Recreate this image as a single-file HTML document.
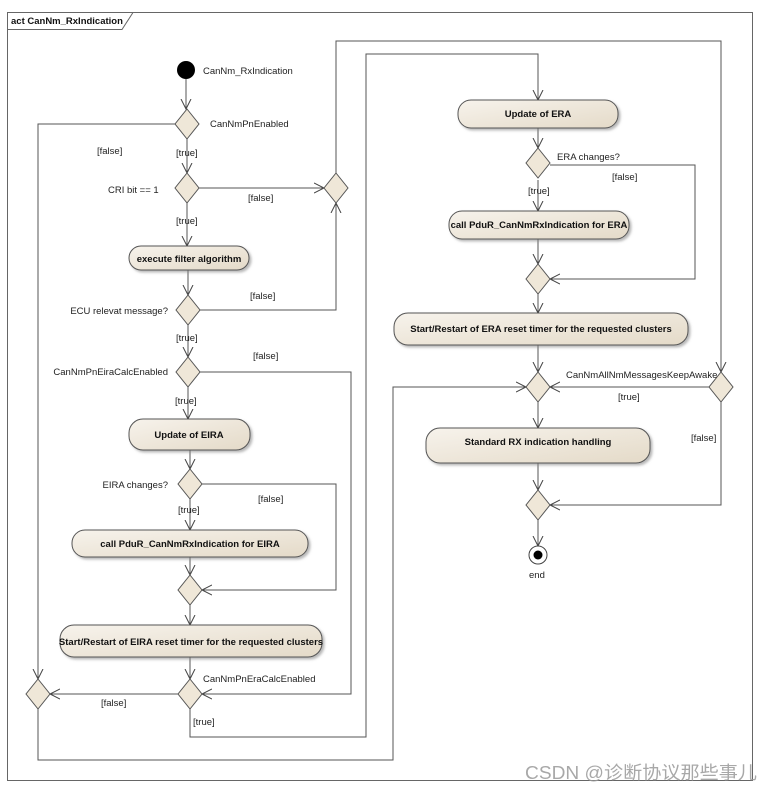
<!DOCTYPE html>
<html><head><meta charset="utf-8"><style>
html,body{margin:0;padding:0;background:#fff;}
svg{display:block;}
text{font-family:"Liberation Sans","Noto Sans CJK SC",sans-serif;font-size:9.5px;fill:#222;}
.b{font-weight:bold;font-size:9.5px;fill:#111;}
</style></head><body>
<svg width="771" height="794" viewBox="0 0 771 794" xmlns="http://www.w3.org/2000/svg">
<defs>
<marker id="a" markerWidth="12" markerHeight="12" refX="10" refY="6" orient="auto" markerUnits="userSpaceOnUse">
<path d="M0,1 L10,6 L0,11" fill="none" stroke="#444" stroke-width="1"/>
</marker>
<linearGradient id="g" x1="0" y1="0" x2="1" y2="1">
<stop offset="0" stop-color="#f7f3ec"/><stop offset="1" stop-color="#e4dac8"/>
</linearGradient>
<filter id="s" x="-5%" y="-20%" width="115%" height="160%"><feDropShadow dx="2" dy="2" stdDeviation="1.2" flood-color="#888" flood-opacity="0.6"/></filter>
</defs>
<!-- frame -->
<rect x="7.5" y="12.5" width="745" height="768" fill="none" stroke="#666" stroke-width="1"/>
<path d="M7.5,29.5 H122 L133,12.5" fill="none" stroke="#666"/>
<text x="11" y="24" class="b" style="font-size:9.5px">act CanNm_RxIndication</text>

<g fill="none" stroke="#555" stroke-width="1">
<path d="M186,79 V109" marker-end="url(#a)"/>
<path d="M187,139 V173" marker-end="url(#a)"/>
<path d="M175,124 H38 V679" marker-end="url(#a)"/>
<path d="M199,188 H324" marker-end="url(#a)"/>
<path d="M187,203 V246" marker-end="url(#a)"/>
<path d="M188,270 V295" marker-end="url(#a)"/>
<path d="M200,310 H336 V203" marker-end="url(#a)"/>
<path d="M336,173 V41 H721 V372" marker-end="url(#a)"/>
<path d="M188,325 V357" marker-end="url(#a)"/>
<path d="M200,372 H351 V694 H202" marker-end="url(#a)"/>
<path d="M188,387 V419" marker-end="url(#a)"/>
<path d="M190,450 V469" marker-end="url(#a)"/>
<path d="M202,484 H336 V590 H202" marker-end="url(#a)"/>
<path d="M190,499 V530" marker-end="url(#a)"/>
<path d="M190,557 V575" marker-end="url(#a)"/>
<path d="M190,605 V625" marker-end="url(#a)"/>
<path d="M190,657 V679" marker-end="url(#a)"/>
<path d="M178,694 H50" marker-end="url(#a)"/>
<path d="M190,709 V737 H366 V54 H538 V100" marker-end="url(#a)"/>
<path d="M38,709 V760 H393 V387 H526" marker-end="url(#a)"/>
<path d="M538,128 V148" marker-end="url(#a)"/>
<path d="M550,165 H695 V279 H550" marker-end="url(#a)"/>
<path d="M538,180 V211" marker-end="url(#a)"/>
<path d="M538,239 V264" marker-end="url(#a)"/>
<path d="M538,294 V313" marker-end="url(#a)"/>
<path d="M538,345 V372" marker-end="url(#a)"/>
<path d="M709,387 H550" marker-end="url(#a)"/>
<path d="M538,402 V428" marker-end="url(#a)"/>
<path d="M538,463 V490" marker-end="url(#a)"/>
<path d="M721,402 V505 H550" marker-end="url(#a)"/>
<path d="M538,520 V546" marker-end="url(#a)"/>
</g>

<!-- initial/final -->
<circle cx="186" cy="70" r="9" fill="#000"/>
<circle cx="538" cy="555" r="9" fill="#fff" stroke="#444"/>
<circle cx="538" cy="555" r="4.5" fill="#000"/>

<!-- diamonds -->
<g fill="#efe7d8" stroke="#555" stroke-width="1">
<path d="M187,109 L199,124 L187,139 L175,124Z"/>
<path d="M187,173 L199,188 L187,203 L175,188Z"/>
<path d="M336,173 L348,188 L336,203 L324,188Z"/>
<path d="M188,295 L200,310 L188,325 L176,310Z"/>
<path d="M188,357 L200,372 L188,387 L176,372Z"/>
<path d="M190,469 L202,484 L190,499 L178,484Z"/>
<path d="M190,575 L202,590 L190,605 L178,590Z"/>
<path d="M190,679 L202,694 L190,709 L178,694Z"/>
<path d="M38,679 L50,694 L38,709 L26,694Z"/>
<path d="M538,148 L550,163 L538,178 L526,163Z"/>
<path d="M538,264 L550,279 L538,294 L526,279Z"/>
<path d="M538,372 L550,387 L538,402 L526,387Z"/>
<path d="M721,372 L733,387 L721,402 L709,387Z"/>
<path d="M538,490 L550,505 L538,520 L526,505Z"/>
</g>

<!-- actions -->
<g fill="url(#g)" stroke="#555" stroke-width="1" filter="url(#s)">
<rect x="129" y="246" width="120" height="24" rx="12"/>
<rect x="129" y="419" width="121" height="31" rx="14"/>
<rect x="72" y="530" width="236" height="27" rx="13"/>
<rect x="60" y="625" width="262" height="32" rx="14"/>
<rect x="458" y="100" width="160" height="28" rx="13"/>
<rect x="449" y="211" width="180" height="28" rx="13"/>
<rect x="394" y="313" width="294" height="32" rx="14"/>
<rect x="426" y="428" width="224" height="35" rx="14"/>
</g>
<g class="b" text-anchor="middle">
<text class="b" x="189" y="262">execute filter algorithm</text>
<text class="b" x="189" y="438">Update of EIRA</text>
<text class="b" x="190" y="547">call PduR_CanNmRxIndication for EIRA</text>
<text class="b" x="191" y="645">Start/Restart of EIRA reset timer for the requested clusters</text>
<text class="b" x="538" y="117">Update of ERA</text>
<text class="b" x="539" y="228">call PduR_CanNmRxIndication for ERA</text>
<text class="b" x="541" y="332">Start/Restart of ERA reset timer for the requested clusters</text>
<text class="b" x="538" y="445">Standard RX indication handling</text>
</g>

<!-- labels -->
<text x="203" y="74">CanNm_RxIndication</text>
<text x="210" y="127">CanNmPnEnabled</text>
<text x="97" y="154">[false]</text>
<text x="176" y="156">[true]</text>
<text x="108" y="193">CRI bit == 1</text>
<text x="248" y="201">[false]</text>
<text x="176" y="224">[true]</text>
<text x="250" y="299">[false]</text>
<text x="168" y="314" text-anchor="end">ECU relevat message?</text>
<text x="176" y="341">[true]</text>
<text x="253" y="359">[false]</text>
<text x="168" y="375" text-anchor="end">CanNmPnEiraCalcEnabled</text>
<text x="175" y="404">[true]</text>
<text x="168" y="488" text-anchor="end">EIRA changes?</text>
<text x="258" y="502">[false]</text>
<text x="178" y="513">[true]</text>
<text x="203" y="682">CanNmPnEraCalcEnabled</text>
<text x="101" y="706">[false]</text>
<text x="193" y="725">[true]</text>
<text x="557" y="160">ERA changes?</text>
<text x="612" y="180">[false]</text>
<text x="528" y="194">[true]</text>
<text x="566" y="378">CanNmAllNmMessagesKeepAwake</text>
<text x="618" y="400">[true]</text>
<text x="691" y="441">[false]</text>
<text x="529" y="578">end</text>
<text x="525" y="779" textLength="232" lengthAdjust="spacingAndGlyphs" style="font-size:18px;fill:#9a9a9a;opacity:0.85">CSDN @诊断协议那些事儿</text>
</svg>
</body></html>
